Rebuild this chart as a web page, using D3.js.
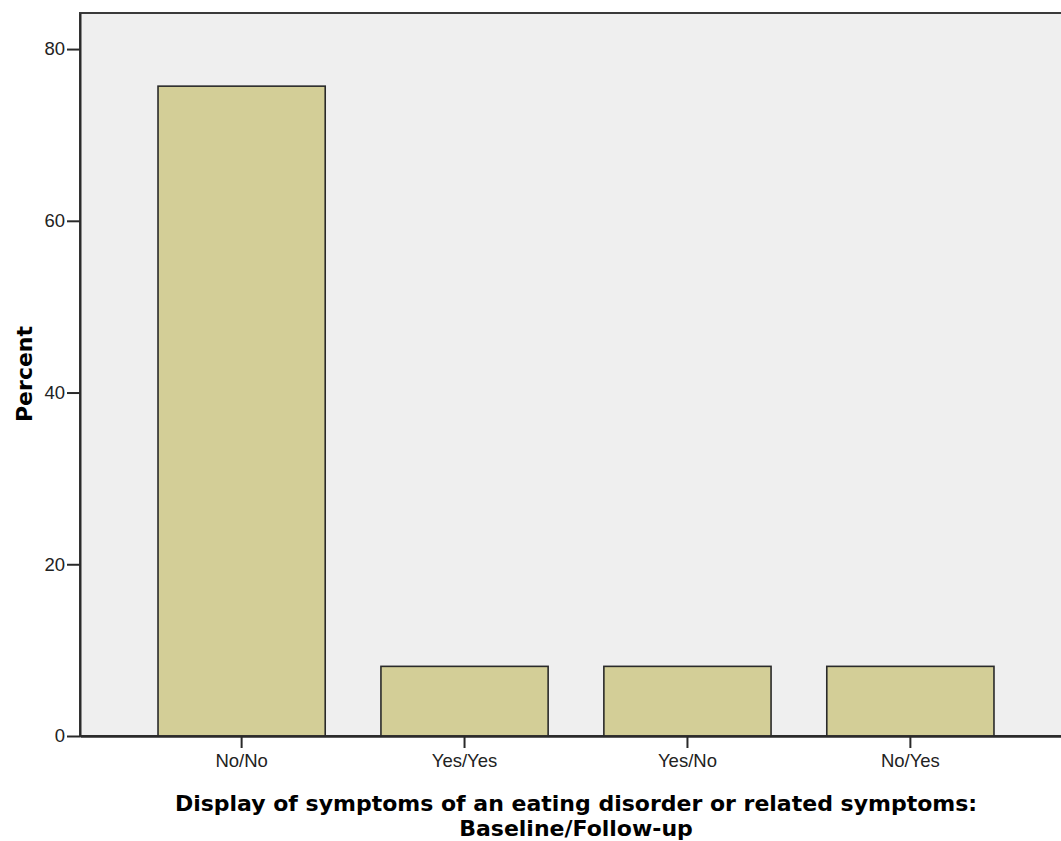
<!DOCTYPE html>
<html>
<head>
<meta charset="utf-8">
<script src="https://cdn.jsdelivr.net/npm/d3@7"></script>
<style>
  html, body { margin: 0; padding: 0; background: #ffffff; }
  svg { display: block; }
</style>
</head>
<body>
<div id="chart"></div>
<script>
const categories = ["No/No", "Yes/Yes", "Yes/No", "No/Yes"];
const percents = [75.68, 8.11, 8.11, 8.11];
const yTicks = [0, 20, 40, 60, 80];
const xTitleLines = ["Display of symptoms of an eating disorder or related symptoms:", "Baseline/Follow-up"];
const yTitle = "Percent";

const W = 1061, H = 841;
const mLeft = 80, mRight = 1072, mTop = 13, mBottom = 736;

const svg = d3.select("#chart").append("svg").attr("width", W).attr("height", H);

const x = d3.scaleBand().domain(categories).range([mLeft, mRight]).paddingInner(0.25).paddingOuter(0.35);
const y = d3.scaleLinear().domain([0, 84.2]).range([mBottom, mTop]);

// plot background
svg.append("rect").attr("x", mLeft).attr("y", mTop).attr("width", mRight - mLeft).attr("height", mBottom - mTop)
  .attr("fill", "#efefef").attr("stroke", "#3a3a3a").attr("stroke-width", 2);

// bars
svg.append("g").selectAll("rect").data(categories).join("rect")
  .attr("x", d => x(d))
  .attr("y", (d, i) => y(percents[i]))
  .attr("width", x.bandwidth())
  .attr("height", (d, i) => y(0) - y(percents[i]))
  .attr("fill", "#d3ce97")
  .attr("stroke", "#2a2a2a")
  .attr("stroke-width", 1.6);

// y axis
const yAxis = d3.axisLeft(y).tickValues(yTicks).tickSizeInner(13).tickSizeOuter(0).tickPadding(2).tickFormat(d3.format("d"));
const gy = svg.append("g").attr("transform", `translate(${mLeft},0)`).call(yAxis);
gy.select(".domain").attr("stroke", "#2a2a2a").attr("stroke-width", 2);
gy.selectAll(".tick line").attr("stroke", "#2a2a2a").attr("stroke-width", 2);
gy.selectAll(".tick text").attr("font-family", "Liberation Sans, Arial, sans-serif").attr("font-size", 18.5).attr("fill", "#222");

// x axis
const xAxis = d3.axisBottom(x).tickSizeInner(12).tickSizeOuter(0).tickPadding(6);
const gx = svg.append("g").attr("transform", `translate(0,${mBottom})`).call(xAxis);
gx.select(".domain").attr("stroke", "#2a2a2a").attr("stroke-width", 2.5);
gx.selectAll(".tick line").attr("stroke", "#2a2a2a").attr("stroke-width", 2);
gx.selectAll(".tick text").attr("font-family", "Liberation Sans, Arial, sans-serif").attr("font-size", 18.5).attr("fill", "#222");

// x title
const xt = svg.append("text").attr("text-anchor", "middle")
  .attr("font-family", "DejaVu Sans, sans-serif").attr("font-weight", "bold").attr("font-size", 22).attr("fill", "#000");
xTitleLines.forEach((t, i) => {
  xt.append("tspan").attr("x", (mLeft + mRight) / 2).attr("y", 811 + i * 25).text(t);
});

// y title
svg.append("text").attr("text-anchor", "middle")
  .attr("transform", `translate(32,374) rotate(-90)`)
  .attr("font-family", "DejaVu Sans, sans-serif").attr("font-weight", "bold").attr("font-size", 22).attr("fill", "#000")
  .text(yTitle);
</script>
</body>
</html>
